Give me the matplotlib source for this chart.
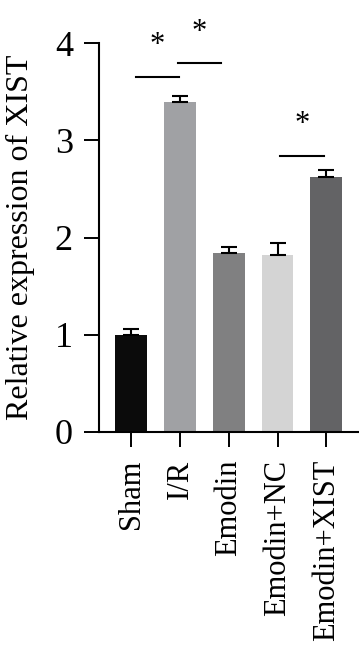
import matplotlib
matplotlib.use("Agg")
import matplotlib.pyplot as plt

groups = ["Sham", "I/R", "Emodin", "Emodin+NC", "Emodin+XIST"]
means = [1.00, 3.39, 1.84, 1.82, 2.62]
errors = [0.06, 0.07, 0.06, 0.12, 0.07]
colors = ["#0b0b0b", "#a0a1a4", "#808081", "#d4d4d4", "#636365"]

# significance brackets: (x start, x end, height)
sig_lines = [(0.10, 0.98, 3.65), (0.96, 1.84, 3.79), (3.05, 3.95, 2.84)]

plt.rcParams["font.family"] = ["Liberation Serif", "DejaVu Serif"]

fig = plt.figure(figsize=(3.59, 6.59), dpi=100)
ax = fig.add_axes([0.2758, 0.3445, 0.7242, 0.5902])

x = list(range(len(groups)))
ax.bar(x, means, width=0.65, color=colors, zorder=2)
ax.errorbar(x, means, yerr=[[0] * len(errors), errors], fmt="none",
            ecolor="black", elinewidth=1.5, capsize=6, capthick=1.5, zorder=3)

for x0, x1, h in sig_lines:
    ax.plot([x0, x1], [h, h], color="black", lw=1.5, clip_on=False)
    ax.text((x0 + x1) / 2, h + 0.32, "*", ha="center", va="center",
            fontsize=22, clip_on=False)

ax.set_xlim(-0.66, 4.67)
ax.set_ylim(0, 4)
ax.set_yticks([0, 1, 2, 3, 4])
ax.set_xticks(x)
ax.set_xticklabels(groups, rotation=90, fontsize=22)
ax.tick_params(axis="y", labelsize=26, length=10.8, width=1.4, pad=8)
ax.tick_params(axis="x", length=10.8, width=1.4, pad=9)
ax.set_ylabel("Relative expression of XIST", fontsize=23, labelpad=14)

for s in ["top", "right"]:
    ax.spines[s].set_visible(False)
for s in ["left", "bottom"]:
    ax.spines[s].set_linewidth(1.5)

fig.savefig("out.png", dpi=100)
